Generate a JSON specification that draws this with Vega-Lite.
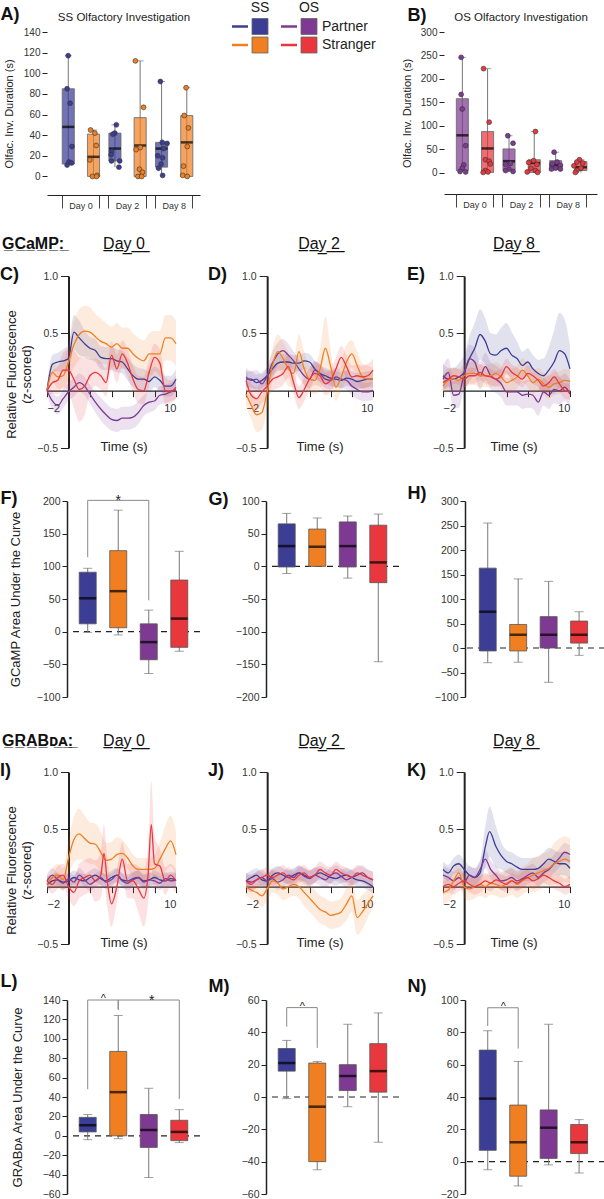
{
"$schema":"https://vega.github.io/schema/vega-lite/v6.json",
"padding":{"left":0,"top":1,"right":0,"bottom":0},
"background":"white",
"config":{"font":"Liberation Sans","view":{"stroke":null},"text":{"font":"Liberation Sans"},
"axis":{"grid":false,"labelFont":"Liberation Sans","titleFont":"Liberation Sans","labelColor":"#333","titleColor":"#222","titleFontWeight":"normal","domainColor":"#222","tickColor":"#222","labelFontSize":10.5}},
"datasets":{
"leg":[{"grp":"SS","row":"Partner","c":"SSP"},{"grp":"SS","row":"Stranger","c":"SSS"},{"grp":"OS","row":"Partner","c":"OSP"},{"grp":"OS","row":"Stranger","c":"OSS"}],
"legHdr":[{"grp":"SS","row":"hdr"},{"grp":"OS","row":"hdr"}],
"boxA":[{"day":"Day 0","type":"Partner","c":"SSP","lo":11,"q1":12,"med":48,"q3":85,"hi":117},{"day":"Day 0","type":"Stranger","c":"SSS","lo":0,"q1":0,"med":19,"q3":41,"hi":45},{"day":"Day 2","type":"Partner","c":"SSP","lo":9,"q1":15,"med":27,"q3":42,"hi":50},{"day":"Day 2","type":"Stranger","c":"SSS","lo":0,"q1":0,"med":30,"q3":57,"hi":112},{"day":"Day 8","type":"Partner","c":"SSP","lo":1,"q1":9,"med":27,"q3":33,"hi":92},{"day":"Day 8","type":"Stranger","c":"SSS","lo":0,"q1":0,"med":33,"q3":59,"hi":86}],
"ptsA":[{"day":"Day 0","c":"SSP","v":117,"jx":0.16},{"day":"Day 0","c":"SSP","v":85,"jx":0.13},{"day":"Day 0","c":"SSP","v":71,"jx":0.21},{"day":"Day 0","c":"SSP","v":29,"jx":0.26},{"day":"Day 0","c":"SSP","v":14,"jx":0.18},{"day":"Day 0","c":"SSP","v":13,"jx":0.25},{"day":"Day 0","c":"SSP","v":11,"jx":0.13},
{"day":"Day 0","c":"SSS","v":45,"jx":0.76},{"day":"Day 0","c":"SSS","v":42,"jx":0.875},{"day":"Day 0","c":"SSS","v":30,"jx":0.91},{"day":"Day 0","c":"SSS","v":16,"jx":0.74},{"day":"Day 0","c":"SSS","v":1,"jx":0.94},{"day":"Day 0","c":"SSS","v":0,"jx":0.81},{"day":"Day 0","c":"SSS","v":0,"jx":0.92},
{"day":"Day 2","c":"SSP","v":50,"jx":0.2},{"day":"Day 2","c":"SSP","v":42,"jx":0.16},{"day":"Day 2","c":"SSP","v":41,"jx":0.11},{"day":"Day 2","c":"SSP","v":24,"jx":0.07},{"day":"Day 2","c":"SSP","v":21,"jx":0.06},{"day":"Day 2","c":"SSP","v":15,"jx":0.07},{"day":"Day 2","c":"SSP","v":15,"jx":0.29},{"day":"Day 2","c":"SSP","v":9,"jx":0.27},
{"day":"Day 2","c":"SSS","v":112,"jx":0.71},{"day":"Day 2","c":"SSS","v":67,"jx":0.93},{"day":"Day 2","c":"SSS","v":28,"jx":0.84},{"day":"Day 2","c":"SSS","v":26,"jx":0.73},{"day":"Day 2","c":"SSS","v":7,"jx":0.82},{"day":"Day 2","c":"SSS","v":4,"jx":0.9},{"day":"Day 2","c":"SSS","v":0,"jx":0.78},{"day":"Day 2","c":"SSS","v":0,"jx":0.88},
{"day":"Day 8","c":"SSP","v":92,"jx":0.13},{"day":"Day 8","c":"SSP","v":33,"jx":0.18},{"day":"Day 8","c":"SSP","v":32,"jx":0.31},{"day":"Day 8","c":"SSP","v":27,"jx":0.22},{"day":"Day 8","c":"SSP","v":20,"jx":0.06},{"day":"Day 8","c":"SSP","v":18,"jx":0.19},{"day":"Day 8","c":"SSP","v":12,"jx":0.15},{"day":"Day 8","c":"SSP","v":8,"jx":0.08},{"day":"Day 8","c":"SSP","v":1,"jx":0.19},
{"day":"Day 8","c":"SSS","v":86,"jx":0.82},{"day":"Day 8","c":"SSS","v":59,"jx":0.77},{"day":"Day 8","c":"SSS","v":47,"jx":0.88},{"day":"Day 8","c":"SSS","v":29,"jx":0.85},{"day":"Day 8","c":"SSS","v":10,"jx":0.75},{"day":"Day 8","c":"SSS","v":1,"jx":0.73},{"day":"Day 8","c":"SSS","v":0,"jx":0.85}],
"boxB":[{"day":"Day 0","type":"Partner","c":"OSP","lo":2,"q1":5,"med":80,"q3":158,"hi":246},{"day":"Day 0","type":"Stranger","c":"OSS","lo":1,"q1":1,"med":52,"q3":88,"hi":222},{"day":"Day 2","type":"Partner","c":"OSP","lo":3,"q1":5,"med":25,"q3":51,"hi":79},{"day":"Day 2","type":"Stranger","c":"OSS","lo":1,"q1":1,"med":21,"q3":28,"hi":88},{"day":"Day 8","type":"Partner","c":"OSP","lo":7,"q1":7,"med":16,"q3":26,"hi":44},{"day":"Day 8","type":"Stranger","c":"OSS","lo":1,"q1":5,"med":12,"q3":24,"hi":28}],
"ptsB":[{"day":"Day 0","c":"OSP","v":246,"jx":0.13},{"day":"Day 0","c":"OSP","v":167,"jx":0.13},{"day":"Day 0","c":"OSP","v":136,"jx":0.16},{"day":"Day 0","c":"OSP","v":58,"jx":0.25},{"day":"Day 0","c":"OSP","v":17,"jx":0.2},{"day":"Day 0","c":"OSP","v":10,"jx":0.16},{"day":"Day 0","c":"OSP","v":3,"jx":0.1},{"day":"Day 0","c":"OSP","v":2,"jx":0.25},
{"day":"Day 0","c":"OSS","v":222,"jx":0.73},{"day":"Day 0","c":"OSS","v":108,"jx":0.88},{"day":"Day 0","c":"OSS","v":28,"jx":0.78},{"day":"Day 0","c":"OSS","v":25,"jx":0.88},{"day":"Day 0","c":"OSS","v":19,"jx":0.91},{"day":"Day 0","c":"OSS","v":5,"jx":0.78},{"day":"Day 0","c":"OSS","v":2,"jx":0.85},{"day":"Day 0","c":"OSS","v":1,"jx":0.72},
{"day":"Day 2","c":"OSP","v":79,"jx":0.13},{"day":"Day 2","c":"OSP","v":63,"jx":0.27},{"day":"Day 2","c":"OSP","v":20,"jx":0.2},{"day":"Day 2","c":"OSP","v":18,"jx":0.07},{"day":"Day 2","c":"OSP","v":8,"jx":0.16},{"day":"Day 2","c":"OSP","v":5,"jx":0.07},{"day":"Day 2","c":"OSP","v":3,"jx":0.27},
{"day":"Day 2","c":"OSS","v":88,"jx":0.87},{"day":"Day 2","c":"OSS","v":26,"jx":0.82},{"day":"Day 2","c":"OSS","v":22,"jx":0.69},{"day":"Day 2","c":"OSS","v":18,"jx":0.91},{"day":"Day 2","c":"OSS","v":10,"jx":0.75},{"day":"Day 2","c":"OSS","v":5,"jx":0.87},{"day":"Day 2","c":"OSS","v":2,"jx":0.65},{"day":"Day 2","c":"OSS","v":1,"jx":0.93},
{"day":"Day 8","c":"OSP","v":44,"jx":0.12},{"day":"Day 8","c":"OSP","v":23,"jx":0.2},{"day":"Day 8","c":"OSP","v":19,"jx":0.07},{"day":"Day 8","c":"OSP","v":16,"jx":0.29},{"day":"Day 8","c":"OSP","v":10,"jx":0.16},{"day":"Day 8","c":"OSP","v":8,"jx":0.05},{"day":"Day 8","c":"OSP","v":8,"jx":0.29},
{"day":"Day 8","c":"OSS","v":28,"jx":0.8},{"day":"Day 8","c":"OSS","v":23,"jx":0.73},{"day":"Day 8","c":"OSS","v":21,"jx":0.89},{"day":"Day 8","c":"OSS","v":15,"jx":0.65},{"day":"Day 8","c":"OSS","v":10,"jx":0.84},{"day":"Day 8","c":"OSS","v":5,"jx":0.73},{"day":"Day 8","c":"OSS","v":1,"jx":0.69}],
"trC":[
{"c":"SSP","t":-2,"m":0,"e":0.04},{"c":"SSP","t":-1.5,"m":0.23,"e":0.08},{"c":"SSP","t":-1,"m":0.25,"e":0.08},{"c":"SSP","t":-0.5,"m":0.26,"e":0.1},{"c":"SSP","t":0,"m":0.28,"e":0.12},{"c":"SSP","t":0.5,"m":0.51,"e":0.15},{"c":"SSP","t":1,"m":0.46,"e":0.15},{"c":"SSP","t":1.5,"m":0.41,"e":0.12},{"c":"SSP","t":2,"m":0.37,"e":0.1},{"c":"SSP","t":2.5,"m":0.35,"e":0.1},{"c":"SSP","t":3,"m":0.29,"e":0.1},{"c":"SSP","t":3.5,"m":0.28,"e":0.1},{"c":"SSP","t":4,"m":0.28,"e":0.1},{"c":"SSP","t":4.5,"m":0.26,"e":0.1},{"c":"SSP","t":5,"m":0.25,"e":0.1},{"c":"SSP","t":5.5,"m":0.19,"e":0.1},{"c":"SSP","t":6,"m":0.13,"e":0.1},{"c":"SSP","t":6.5,"m":0.1,"e":0.1},{"c":"SSP","t":7,"m":0.1,"e":0.09},{"c":"SSP","t":7.5,"m":0.08,"e":0.09},{"c":"SSP","t":8,"m":0.12,"e":0.09},{"c":"SSP","t":8.5,"m":0.09,"e":0.09},{"c":"SSP","t":9,"m":0.04,"e":0.09},{"c":"SSP","t":9.5,"m":0.04,"e":0.09},{"c":"SSP","t":10,"m":0.1,"e":0.09},
{"c":"SSS","t":-2,"m":0,"e":0.04},{"c":"SSS","t":-1.5,"m":0.16,"e":0.08},{"c":"SSS","t":-1,"m":0.12,"e":0.1},{"c":"SSS","t":-0.5,"m":0.13,"e":0.12},{"c":"SSS","t":0,"m":0.25,"e":0.15},{"c":"SSS","t":0.5,"m":0.4,"e":0.2},{"c":"SSS","t":1,"m":0.49,"e":0.22},{"c":"SSS","t":1.5,"m":0.52,"e":0.22},{"c":"SSS","t":2,"m":0.51,"e":0.22},{"c":"SSS","t":2.5,"m":0.47,"e":0.2},{"c":"SSS","t":3,"m":0.43,"e":0.2},{"c":"SSS","t":3.5,"m":0.41,"e":0.18},{"c":"SSS","t":4,"m":0.38,"e":0.18},{"c":"SSS","t":4.5,"m":0.41,"e":0.18},{"c":"SSS","t":5,"m":0.37,"e":0.18},{"c":"SSS","t":5.5,"m":0.37,"e":0.18},{"c":"SSS","t":6,"m":0.32,"e":0.18},{"c":"SSS","t":6.5,"m":0.28,"e":0.18},{"c":"SSS","t":7,"m":0.26,"e":0.18},{"c":"SSS","t":7.5,"m":0.32,"e":0.18},{"c":"SSS","t":8,"m":0.32,"e":0.2},{"c":"SSS","t":8.5,"m":0.32,"e":0.2},{"c":"SSS","t":9,"m":0.46,"e":0.2},{"c":"SSS","t":9.5,"m":0.46,"e":0.2},{"c":"SSS","t":10,"m":0.41,"e":0.2},
{"c":"OSP","t":-2,"m":0,"e":0.04},{"c":"OSP","t":-1.5,"m":-0.09,"e":0.07},{"c":"OSP","t":-1,"m":-0.13,"e":0.08},{"c":"OSP","t":-0.5,"m":-0.07,"e":0.08},{"c":"OSP","t":0,"m":-0.01,"e":0.08},{"c":"OSP","t":0.5,"m":0.03,"e":0.08},{"c":"OSP","t":1,"m":0.07,"e":0.08},{"c":"OSP","t":1.5,"m":0.04,"e":0.08},{"c":"OSP","t":2,"m":-0.03,"e":0.08},{"c":"OSP","t":2.5,"m":-0.1,"e":0.09},{"c":"OSP","t":3,"m":-0.16,"e":0.1},{"c":"OSP","t":3.5,"m":-0.21,"e":0.1},{"c":"OSP","t":4,"m":-0.25,"e":0.1},{"c":"OSP","t":4.5,"m":-0.26,"e":0.1},{"c":"OSP","t":5,"m":-0.24,"e":0.1},{"c":"OSP","t":5.5,"m":-0.24,"e":0.1},{"c":"OSP","t":6,"m":-0.23,"e":0.1},{"c":"OSP","t":6.5,"m":-0.19,"e":0.1},{"c":"OSP","t":7,"m":-0.13,"e":0.09},{"c":"OSP","t":7.5,"m":-0.1,"e":0.09},{"c":"OSP","t":8,"m":-0.09,"e":0.08},{"c":"OSP","t":8.5,"m":-0.04,"e":0.08},{"c":"OSP","t":9,"m":-0.03,"e":0.08},{"c":"OSP","t":9.5,"m":-0.01,"e":0.08},{"c":"OSP","t":10,"m":0.01,"e":0.08},
{"c":"OSS","t":-2,"m":0,"e":0.04},{"c":"OSS","t":-1.5,"m":0.07,"e":0.1},{"c":"OSS","t":-1,"m":0.09,"e":0.12},{"c":"OSS","t":-0.5,"m":0.18,"e":0.15},{"c":"OSS","t":0,"m":0.18,"e":0.18},{"c":"OSS","t":0.5,"m":0.1,"e":0.25},{"c":"OSS","t":1,"m":0.01,"e":0.28},{"c":"OSS","t":1.5,"m":0.04,"e":0.25},{"c":"OSS","t":2,"m":0.13,"e":0.15},{"c":"OSS","t":2.5,"m":0.16,"e":0.12},{"c":"OSS","t":3,"m":0.13,"e":0.12},{"c":"OSS","t":3.5,"m":0.07,"e":0.12},{"c":"OSS","t":4,"m":0.31,"e":0.12},{"c":"OSS","t":4.5,"m":0.19,"e":0.12},{"c":"OSS","t":5,"m":0.32,"e":0.12},{"c":"OSS","t":5.5,"m":0.24,"e":0.12},{"c":"OSS","t":6,"m":0.1,"e":0.12},{"c":"OSS","t":6.5,"m":0.01,"e":0.12},{"c":"OSS","t":7,"m":0,"e":0.12},{"c":"OSS","t":7.5,"m":0.16,"e":0.12},{"c":"OSS","t":8,"m":0.29,"e":0.12},{"c":"OSS","t":8.5,"m":0.24,"e":0.12},{"c":"OSS","t":9,"m":0,"e":0.12},{"c":"OSS","t":9.5,"m":-0.01,"e":0.1},{"c":"OSS","t":10,"m":0.03,"e":0.1}],
"trD":[
{"c":"SSP","t":-2,"m":0.1,"e":0.07},{"c":"SSP","t":-1.5,"m":0.1,"e":0.07},{"c":"SSP","t":-1,"m":0.07,"e":0.07},{"c":"SSP","t":-0.5,"m":0.09,"e":0.07},{"c":"SSP","t":0,"m":0.13,"e":0.07},{"c":"SSP","t":0.5,"m":0.19,"e":0.07},{"c":"SSP","t":1,"m":0.24,"e":0.07},{"c":"SSP","t":1.5,"m":0.25,"e":0.07},{"c":"SSP","t":2,"m":0.25,"e":0.07},{"c":"SSP","t":2.5,"m":0.24,"e":0.07},{"c":"SSP","t":3,"m":0.24,"e":0.07},{"c":"SSP","t":3.5,"m":0.26,"e":0.07},{"c":"SSP","t":4,"m":0.25,"e":0.07},{"c":"SSP","t":4.5,"m":0.19,"e":0.07},{"c":"SSP","t":5,"m":0.15,"e":0.07},{"c":"SSP","t":5.5,"m":0.13,"e":0.07},{"c":"SSP","t":6,"m":0.11,"e":0.07},{"c":"SSP","t":6.5,"m":0.1,"e":0.07},{"c":"SSP","t":7,"m":0.09,"e":0.07},{"c":"SSP","t":7.5,"m":0.11,"e":0.07},{"c":"SSP","t":8,"m":0.1,"e":0.07},{"c":"SSP","t":8.5,"m":0.08,"e":0.07},{"c":"SSP","t":9,"m":0.09,"e":0.07},{"c":"SSP","t":9.5,"m":0.1,"e":0.07},{"c":"SSP","t":10,"m":0.1,"e":0.07},
{"c":"OSP","t":-2,"m":0.12,"e":0.08},{"c":"OSP","t":-1.5,"m":0.09,"e":0.08},{"c":"OSP","t":-1,"m":0.1,"e":0.08},{"c":"OSP","t":-0.5,"m":0.06,"e":0.08},{"c":"OSP","t":0,"m":0.13,"e":0.08},{"c":"OSP","t":0.5,"m":0.24,"e":0.1},{"c":"OSP","t":1,"m":0.32,"e":0.1},{"c":"OSP","t":1.5,"m":0.35,"e":0.1},{"c":"OSP","t":2,"m":0.31,"e":0.1},{"c":"OSP","t":2.5,"m":0.26,"e":0.08},{"c":"OSP","t":3,"m":0.19,"e":0.08},{"c":"OSP","t":3.5,"m":0.13,"e":0.08},{"c":"OSP","t":4,"m":0.1,"e":0.08},{"c":"OSP","t":4.5,"m":0.18,"e":0.08},{"c":"OSP","t":5,"m":0.15,"e":0.08},{"c":"OSP","t":5.5,"m":0.1,"e":0.08},{"c":"OSP","t":6,"m":0.09,"e":0.08},{"c":"OSP","t":6.5,"m":0.12,"e":0.08},{"c":"OSP","t":7,"m":0.1,"e":0.08},{"c":"OSP","t":7.5,"m":0.09,"e":0.08},{"c":"OSP","t":8,"m":0.04,"e":0.08},{"c":"OSP","t":8.5,"m":0.01,"e":0.08},{"c":"OSP","t":9,"m":-0.01,"e":0.08},{"c":"OSP","t":9.5,"m":-0.01,"e":0.08},{"c":"OSP","t":10,"m":0,"e":0.08},
{"c":"SSS","t":-2,"m":-0.03,"e":0.1},{"c":"SSS","t":-1.5,"m":-0.13,"e":0.12},{"c":"SSS","t":-1,"m":-0.21,"e":0.15},{"c":"SSS","t":-0.5,"m":-0.19,"e":0.15},{"c":"SSS","t":0,"m":-0.01,"e":0.15},{"c":"SSS","t":0.5,"m":0.22,"e":0.15},{"c":"SSS","t":1,"m":0.34,"e":0.15},{"c":"SSS","t":1.5,"m":0.28,"e":0.15},{"c":"SSS","t":2,"m":0.19,"e":0.15},{"c":"SSS","t":2.5,"m":0.15,"e":0.12},{"c":"SSS","t":3,"m":0.34,"e":0.15},{"c":"SSS","t":3.5,"m":0.19,"e":0.15},{"c":"SSS","t":4,"m":0.1,"e":0.12},{"c":"SSS","t":4.5,"m":0.09,"e":0.12},{"c":"SSS","t":5,"m":0.19,"e":0.18},{"c":"SSS","t":5.5,"m":0.37,"e":0.28},{"c":"SSS","t":6,"m":0.21,"e":0.15},{"c":"SSS","t":6.5,"m":0.03,"e":0.12},{"c":"SSS","t":7,"m":0.12,"e":0.12},{"c":"SSS","t":7.5,"m":0.25,"e":0.15},{"c":"SSS","t":8,"m":0.32,"e":0.12},{"c":"SSS","t":8.5,"m":0.22,"e":0.12},{"c":"SSS","t":9,"m":0.12,"e":0.12},{"c":"SSS","t":9.5,"m":0.1,"e":0.12},{"c":"SSS","t":10,"m":0.1,"e":0.1},
{"c":"OSS","t":-2,"m":0.09,"e":0.1},{"c":"OSS","t":-1.5,"m":-0.04,"e":0.1},{"c":"OSS","t":-1,"m":-0.07,"e":0.1},{"c":"OSS","t":-0.5,"m":-0.01,"e":0.1},{"c":"OSS","t":0,"m":0.04,"e":0.1},{"c":"OSS","t":0.5,"m":0.1,"e":0.1},{"c":"OSS","t":1,"m":0.12,"e":0.1},{"c":"OSS","t":1.5,"m":0.15,"e":0.1},{"c":"OSS","t":2,"m":0.21,"e":0.1},{"c":"OSS","t":2.5,"m":0.07,"e":0.1},{"c":"OSS","t":3,"m":-0.06,"e":0.1},{"c":"OSS","t":3.5,"m":0.01,"e":0.1},{"c":"OSS","t":4,"m":0.1,"e":0.1},{"c":"OSS","t":4.5,"m":0.15,"e":0.1},{"c":"OSS","t":5,"m":0.13,"e":0.1},{"c":"OSS","t":5.5,"m":0.06,"e":0.1},{"c":"OSS","t":6,"m":0.09,"e":0.1},{"c":"OSS","t":6.5,"m":0.19,"e":0.1},{"c":"OSS","t":7,"m":0.29,"e":0.1},{"c":"OSS","t":7.5,"m":0.21,"e":0.1},{"c":"OSS","t":8,"m":0.12,"e":0.1},{"c":"OSS","t":8.5,"m":0.13,"e":0.1},{"c":"OSS","t":9,"m":0.12,"e":0.1},{"c":"OSS","t":9.5,"m":0.13,"e":0.1},{"c":"OSS","t":10,"m":0.18,"e":0.1}],
"trE":[
{"c":"SSP","t":-2,"m":0.13,"e":0.1},{"c":"SSP","t":-1.5,"m":0.1,"e":0.1},{"c":"SSP","t":-1,"m":0.1,"e":0.1},{"c":"SSP","t":-0.5,"m":0.12,"e":0.12},{"c":"SSP","t":0,"m":0.16,"e":0.15},{"c":"SSP","t":0.5,"m":0.28,"e":0.2},{"c":"SSP","t":1,"m":0.37,"e":0.22},{"c":"SSP","t":1.5,"m":0.49,"e":0.22},{"c":"SSP","t":2,"m":0.43,"e":0.2},{"c":"SSP","t":2.5,"m":0.32,"e":0.18},{"c":"SSP","t":3,"m":0.31,"e":0.18},{"c":"SSP","t":3.5,"m":0.35,"e":0.2},{"c":"SSP","t":4,"m":0.37,"e":0.22},{"c":"SSP","t":4.5,"m":0.31,"e":0.2},{"c":"SSP","t":5,"m":0.28,"e":0.15},{"c":"SSP","t":5.5,"m":0.22,"e":0.12},{"c":"SSP","t":6,"m":0.25,"e":0.12},{"c":"SSP","t":6.5,"m":0.19,"e":0.12},{"c":"SSP","t":7,"m":0.15,"e":0.12},{"c":"SSP","t":7.5,"m":0.13,"e":0.15},{"c":"SSP","t":8,"m":0.18,"e":0.2},{"c":"SSP","t":8.5,"m":0.25,"e":0.28},{"c":"SSP","t":9,"m":0.35,"e":0.33},{"c":"SSP","t":9.5,"m":0.32,"e":0.3},{"c":"SSP","t":10,"m":0.19,"e":0.2},
{"c":"OSP","t":-2,"m":0.1,"e":0.12},{"c":"OSP","t":-1.5,"m":0.16,"e":0.12},{"c":"OSP","t":-1,"m":-0.04,"e":0.12},{"c":"OSP","t":-0.5,"m":-0.03,"e":0.12},{"c":"OSP","t":0,"m":0.15,"e":0.12},{"c":"OSP","t":0.5,"m":0.28,"e":0.12},{"c":"OSP","t":1,"m":0.25,"e":0.12},{"c":"OSP","t":1.5,"m":0.13,"e":0.12},{"c":"OSP","t":2,"m":0.21,"e":0.12},{"c":"OSP","t":2.5,"m":0.13,"e":0.12},{"c":"OSP","t":3,"m":0.1,"e":0.12},{"c":"OSP","t":3.5,"m":0.06,"e":0.12},{"c":"OSP","t":4,"m":-0.01,"e":0.12},{"c":"OSP","t":4.5,"m":-0.01,"e":0.12},{"c":"OSP","t":5,"m":-0.01,"e":0.12},{"c":"OSP","t":5.5,"m":-0.04,"e":0.12},{"c":"OSP","t":6,"m":-0.03,"e":0.12},{"c":"OSP","t":6.5,"m":-0.04,"e":0.12},{"c":"OSP","t":7,"m":-0.1,"e":0.12},{"c":"OSP","t":7.5,"m":-0.01,"e":0.12},{"c":"OSP","t":8,"m":-0.04,"e":0.12},{"c":"OSP","t":8.5,"m":0.01,"e":0.12},{"c":"OSP","t":9,"m":0,"e":0.12},{"c":"OSP","t":9.5,"m":0.03,"e":0.12},{"c":"OSP","t":10,"m":-0.03,"e":0.12},
{"c":"SSS","t":-2,"m":0.04,"e":0.1},{"c":"SSS","t":-1.5,"m":0.09,"e":0.1},{"c":"SSS","t":-1,"m":0.1,"e":0.1},{"c":"SSS","t":-0.5,"m":0.09,"e":0.1},{"c":"SSS","t":0,"m":0.13,"e":0.1},{"c":"SSS","t":0.5,"m":0.15,"e":0.1},{"c":"SSS","t":1,"m":0.15,"e":0.1},{"c":"SSS","t":1.5,"m":0.13,"e":0.1},{"c":"SSS","t":2,"m":0.13,"e":0.1},{"c":"SSS","t":2.5,"m":0.13,"e":0.1},{"c":"SSS","t":3,"m":0.15,"e":0.1},{"c":"SSS","t":3.5,"m":0.12,"e":0.1},{"c":"SSS","t":4,"m":0.07,"e":0.1},{"c":"SSS","t":4.5,"m":0.09,"e":0.1},{"c":"SSS","t":5,"m":0.12,"e":0.1},{"c":"SSS","t":5.5,"m":0.18,"e":0.1},{"c":"SSS","t":6,"m":0.13,"e":0.1},{"c":"SSS","t":6.5,"m":0.07,"e":0.1},{"c":"SSS","t":7,"m":0.1,"e":0.1},{"c":"SSS","t":7.5,"m":0.06,"e":0.1},{"c":"SSS","t":8,"m":0.03,"e":0.1},{"c":"SSS","t":8.5,"m":0.06,"e":0.1},{"c":"SSS","t":9,"m":0.07,"e":0.1},{"c":"SSS","t":9.5,"m":0.09,"e":0.1},{"c":"SSS","t":10,"m":0.08,"e":0.1},
{"c":"OSS","t":-2,"m":0.07,"e":0.07},{"c":"OSS","t":-1.5,"m":0.1,"e":0.07},{"c":"OSS","t":-1,"m":0.13,"e":0.07},{"c":"OSS","t":-0.5,"m":0.12,"e":0.07},{"c":"OSS","t":0,"m":0.1,"e":0.07},{"c":"OSS","t":0.5,"m":0.13,"e":0.07},{"c":"OSS","t":1,"m":0.13,"e":0.07},{"c":"OSS","t":1.5,"m":0.16,"e":0.07},{"c":"OSS","t":2,"m":0.13,"e":0.07},{"c":"OSS","t":2.5,"m":0.12,"e":0.07},{"c":"OSS","t":3,"m":0.1,"e":0.07},{"c":"OSS","t":3.5,"m":0.13,"e":0.07},{"c":"OSS","t":4,"m":0.21,"e":0.07},{"c":"OSS","t":4.5,"m":0.16,"e":0.07},{"c":"OSS","t":5,"m":0.13,"e":0.07},{"c":"OSS","t":5.5,"m":0.1,"e":0.07},{"c":"OSS","t":6,"m":0.15,"e":0.07},{"c":"OSS","t":6.5,"m":0.13,"e":0.07},{"c":"OSS","t":7,"m":0.09,"e":0.07},{"c":"OSS","t":7.5,"m":0.04,"e":0.07},{"c":"OSS","t":8,"m":0.07,"e":0.07},{"c":"OSS","t":8.5,"m":0.12,"e":0.07},{"c":"OSS","t":9,"m":0.06,"e":0.07},{"c":"OSS","t":9.5,"m":0,"e":0.07},{"c":"OSS","t":10,"m":-0.01,"e":0.07}],
"trI":[
{"c":"SSP","t":-2,"m":0.02,"e":0.06},{"c":"SSP","t":-1.5,"m":0.05,"e":0.06},{"c":"SSP","t":-1,"m":0.06,"e":0.06},{"c":"SSP","t":-0.5,"m":0.04,"e":0.06},{"c":"SSP","t":0,"m":0.05,"e":0.06},{"c":"SSP","t":0.5,"m":0.08,"e":0.06},{"c":"SSP","t":1,"m":0.06,"e":0.06},{"c":"SSP","t":1.5,"m":0.05,"e":0.06},{"c":"SSP","t":2,"m":0.08,"e":0.06},{"c":"SSP","t":2.5,"m":0.1,"e":0.06},{"c":"SSP","t":3,"m":0.07,"e":0.06},{"c":"SSP","t":3.5,"m":0.05,"e":0.06},{"c":"SSP","t":4,"m":0.08,"e":0.06},{"c":"SSP","t":4.5,"m":0.1,"e":0.06},{"c":"SSP","t":5,"m":0.06,"e":0.06},{"c":"SSP","t":5.5,"m":0.05,"e":0.06},{"c":"SSP","t":6,"m":0.07,"e":0.06},{"c":"SSP","t":6.5,"m":0.08,"e":0.06},{"c":"SSP","t":7,"m":0.05,"e":0.06},{"c":"SSP","t":7.5,"m":0.06,"e":0.06},{"c":"SSP","t":8,"m":0.08,"e":0.06},{"c":"SSP","t":8.5,"m":0.06,"e":0.06},{"c":"SSP","t":9,"m":0.05,"e":0.06},{"c":"SSP","t":9.5,"m":0.07,"e":0.06},{"c":"SSP","t":10,"m":0.06,"e":0.06},
{"c":"OSP","t":-2,"m":0.05,"e":0.06},{"c":"OSP","t":-1.5,"m":0.1,"e":0.06},{"c":"OSP","t":-1,"m":0.06,"e":0.06},{"c":"OSP","t":-0.5,"m":0.03,"e":0.06},{"c":"OSP","t":0,"m":0.07,"e":0.06},{"c":"OSP","t":0.5,"m":0.04,"e":0.06},{"c":"OSP","t":1,"m":0.1,"e":0.06},{"c":"OSP","t":1.5,"m":0.06,"e":0.06},{"c":"OSP","t":2,"m":0.02,"e":0.06},{"c":"OSP","t":2.5,"m":0.05,"e":0.06},{"c":"OSP","t":3,"m":0.08,"e":0.06},{"c":"OSP","t":3.5,"m":0.04,"e":0.06},{"c":"OSP","t":4,"m":0.06,"e":0.06},{"c":"OSP","t":4.5,"m":0.1,"e":0.06},{"c":"OSP","t":5,"m":0.05,"e":0.06},{"c":"OSP","t":5.5,"m":0.03,"e":0.06},{"c":"OSP","t":6,"m":0.06,"e":0.06},{"c":"OSP","t":6.5,"m":0.08,"e":0.06},{"c":"OSP","t":7,"m":0.04,"e":0.06},{"c":"OSP","t":7.5,"m":0.06,"e":0.06},{"c":"OSP","t":8,"m":0.05,"e":0.06},{"c":"OSP","t":8.5,"m":0.03,"e":0.06},{"c":"OSP","t":9,"m":0.07,"e":0.06},{"c":"OSP","t":9.5,"m":0.05,"e":0.06},{"c":"OSP","t":10,"m":0.06,"e":0.06},
{"c":"SSS","t":-2,"m":0.02,"e":0.05},{"c":"SSS","t":-1.5,"m":0.08,"e":0.08},{"c":"SSS","t":-1,"m":0.1,"e":0.1},{"c":"SSS","t":-0.5,"m":0.06,"e":0.1},{"c":"SSS","t":0,"m":0.25,"e":0.15},{"c":"SSS","t":0.5,"m":0.41,"e":0.2},{"c":"SSS","t":1,"m":0.46,"e":0.22},{"c":"SSS","t":1.5,"m":0.42,"e":0.2},{"c":"SSS","t":2,"m":0.38,"e":0.18},{"c":"SSS","t":2.5,"m":0.37,"e":0.18},{"c":"SSS","t":3,"m":0.3,"e":0.18},{"c":"SSS","t":3.5,"m":0.23,"e":0.15},{"c":"SSS","t":4,"m":0.24,"e":0.15},{"c":"SSS","t":4.5,"m":0.28,"e":0.15},{"c":"SSS","t":5,"m":0.29,"e":0.12},{"c":"SSS","t":5.5,"m":0.25,"e":0.1},{"c":"SSS","t":6,"m":0.18,"e":0.1},{"c":"SSS","t":6.5,"m":0.15,"e":0.1},{"c":"SSS","t":7,"m":0.15,"e":0.1},{"c":"SSS","t":7.5,"m":0.15,"e":0.1},{"c":"SSS","t":8,"m":0.16,"e":0.12},{"c":"SSS","t":8.5,"m":0.24,"e":0.15},{"c":"SSS","t":9,"m":0.33,"e":0.2},{"c":"SSS","t":9.5,"m":0.4,"e":0.22},{"c":"SSS","t":10,"m":0.28,"e":0.2},
{"c":"OSS","t":-2,"m":0.05,"e":0.05},{"c":"OSS","t":-1.5,"m":0.02,"e":0.08},{"c":"OSS","t":-1,"m":0.08,"e":0.1},{"c":"OSS","t":-0.5,"m":0.1,"e":0.1},{"c":"OSS","t":0,"m":0,"e":0.1},{"c":"OSS","t":0.5,"m":-0.05,"e":0.12},{"c":"OSS","t":1,"m":0.05,"e":0.15},{"c":"OSS","t":1.5,"m":0.08,"e":0.15},{"c":"OSS","t":2,"m":0.1,"e":0.15},{"c":"OSS","t":2.5,"m":0.05,"e":0.18},{"c":"OSS","t":3,"m":0.1,"e":0.2},{"c":"OSS","t":3.3,"m":0.29,"e":0.25},{"c":"OSS","t":3.6,"m":0.05,"e":0.22},{"c":"OSS","t":4,"m":-0.15,"e":0.2},{"c":"OSS","t":4.5,"m":0,"e":0.15},{"c":"OSS","t":5,"m":0.24,"e":0.15},{"c":"OSS","t":5.5,"m":0.05,"e":0.15},{"c":"OSS","t":6,"m":0.05,"e":0.15},{"c":"OSS","t":6.5,"m":-0.02,"e":0.2},{"c":"OSS","t":7,"m":-0.1,"e":0.25},{"c":"OSS","t":7.4,"m":0.1,"e":0.25},{"c":"OSS","t":7.7,"m":0.54,"e":0.38},{"c":"OSS","t":8,"m":0.2,"e":0.25},{"c":"OSS","t":8.5,"m":0.18,"e":0.15},{"c":"OSS","t":9,"m":0.05,"e":0.12},{"c":"OSS","t":9.5,"m":0.1,"e":0.1},{"c":"OSS","t":10,"m":0.05,"e":0.1}],
"trJ":[
{"c":"SSP","t":-2,"m":0.05,"e":0.06},{"c":"SSP","t":-1.5,"m":0.08,"e":0.06},{"c":"SSP","t":-1,"m":0.1,"e":0.06},{"c":"SSP","t":-0.5,"m":0.06,"e":0.06},{"c":"SSP","t":0,"m":0.05,"e":0.06},{"c":"SSP","t":0.5,"m":0.1,"e":0.06},{"c":"SSP","t":1,"m":0.12,"e":0.06},{"c":"SSP","t":1.5,"m":0.1,"e":0.06},{"c":"SSP","t":2,"m":0.08,"e":0.06},{"c":"SSP","t":2.5,"m":0.1,"e":0.06},{"c":"SSP","t":3,"m":0.12,"e":0.06},{"c":"SSP","t":3.5,"m":0.1,"e":0.06},{"c":"SSP","t":4,"m":0.08,"e":0.06},{"c":"SSP","t":4.5,"m":0.1,"e":0.06},{"c":"SSP","t":5,"m":0.12,"e":0.06},{"c":"SSP","t":5.5,"m":0.1,"e":0.06},{"c":"SSP","t":6,"m":0.08,"e":0.06},{"c":"SSP","t":6.5,"m":0.07,"e":0.06},{"c":"SSP","t":7,"m":0.09,"e":0.06},{"c":"SSP","t":7.5,"m":0.1,"e":0.06},{"c":"SSP","t":8,"m":0.08,"e":0.06},{"c":"SSP","t":8.5,"m":0.06,"e":0.06},{"c":"SSP","t":9,"m":0.05,"e":0.06},{"c":"SSP","t":9.5,"m":0.03,"e":0.06},{"c":"SSP","t":10,"m":0,"e":0.06},
{"c":"OSP","t":-2,"m":0.05,"e":0.07},{"c":"OSP","t":-1.5,"m":0.04,"e":0.07},{"c":"OSP","t":-1,"m":0.06,"e":0.07},{"c":"OSP","t":-0.5,"m":0.08,"e":0.07},{"c":"OSP","t":0,"m":0.05,"e":0.07},{"c":"OSP","t":0.5,"m":0.07,"e":0.07},{"c":"OSP","t":1,"m":0.04,"e":0.07},{"c":"OSP","t":1.5,"m":0.06,"e":0.07},{"c":"OSP","t":2,"m":0.1,"e":0.07},{"c":"OSP","t":2.5,"m":0.08,"e":0.07},{"c":"OSP","t":3,"m":0.12,"e":0.07},{"c":"OSP","t":3.5,"m":0.09,"e":0.07},{"c":"OSP","t":4,"m":0.07,"e":0.07},{"c":"OSP","t":4.5,"m":0.1,"e":0.07},{"c":"OSP","t":5,"m":0.08,"e":0.07},{"c":"OSP","t":5.5,"m":0.06,"e":0.07},{"c":"OSP","t":6,"m":0.1,"e":0.07},{"c":"OSP","t":6.5,"m":0.12,"e":0.07},{"c":"OSP","t":7,"m":0.09,"e":0.07},{"c":"OSP","t":7.5,"m":0.06,"e":0.07},{"c":"OSP","t":8,"m":0.08,"e":0.07},{"c":"OSP","t":8.5,"m":0.1,"e":0.07},{"c":"OSP","t":9,"m":0.12,"e":0.07},{"c":"OSP","t":9.5,"m":0.08,"e":0.07},{"c":"OSP","t":10,"m":0.06,"e":0.07},
{"c":"SSS","t":-2,"m":0,"e":0.08},{"c":"SSS","t":-1.5,"m":-0.03,"e":0.08},{"c":"SSS","t":-1,"m":-0.05,"e":0.08},{"c":"SSS","t":-0.5,"m":-0.08,"e":0.1},{"c":"SSS","t":0,"m":-0.02,"e":0.1},{"c":"SSS","t":0.5,"m":0.05,"e":0.1},{"c":"SSS","t":1,"m":0.03,"e":0.1},{"c":"SSS","t":1.5,"m":-0.02,"e":0.1},{"c":"SSS","t":2,"m":0,"e":0.1},{"c":"SSS","t":2.5,"m":0.02,"e":0.1},{"c":"SSS","t":3,"m":0,"e":0.1},{"c":"SSS","t":3.5,"m":-0.05,"e":0.12},{"c":"SSS","t":4,"m":-0.1,"e":0.12},{"c":"SSS","t":4.5,"m":-0.15,"e":0.12},{"c":"SSS","t":5,"m":-0.2,"e":0.12},{"c":"SSS","t":5.5,"m":-0.22,"e":0.12},{"c":"SSS","t":6,"m":-0.25,"e":0.12},{"c":"SSS","t":6.5,"m":-0.24,"e":0.12},{"c":"SSS","t":7,"m":-0.22,"e":0.12},{"c":"SSS","t":7.5,"m":-0.15,"e":0.14},{"c":"SSS","t":8,"m":-0.08,"e":0.14},{"c":"SSS","t":8.5,"m":-0.27,"e":0.15},{"c":"SSS","t":9,"m":-0.22,"e":0.15},{"c":"SSS","t":9.5,"m":-0.15,"e":0.12},{"c":"SSS","t":10,"m":-0.08,"e":0.1},
{"c":"OSS","t":-2,"m":0.05,"e":0.07},{"c":"OSS","t":-1.5,"m":0.02,"e":0.07},{"c":"OSS","t":-1,"m":0.06,"e":0.07},{"c":"OSS","t":-0.5,"m":0.08,"e":0.07},{"c":"OSS","t":0,"m":0.1,"e":0.07},{"c":"OSS","t":0.5,"m":0.08,"e":0.07},{"c":"OSS","t":1,"m":0.1,"e":0.07},{"c":"OSS","t":1.5,"m":0.12,"e":0.07},{"c":"OSS","t":2,"m":0.08,"e":0.07},{"c":"OSS","t":2.5,"m":0.06,"e":0.07},{"c":"OSS","t":3,"m":0.1,"e":0.07},{"c":"OSS","t":3.5,"m":0.12,"e":0.07},{"c":"OSS","t":4,"m":0.08,"e":0.07},{"c":"OSS","t":4.5,"m":0.1,"e":0.07},{"c":"OSS","t":5,"m":0.15,"e":0.07},{"c":"OSS","t":5.5,"m":0.12,"e":0.07},{"c":"OSS","t":6,"m":0.1,"e":0.07},{"c":"OSS","t":6.5,"m":0.15,"e":0.07},{"c":"OSS","t":7,"m":0.12,"e":0.07},{"c":"OSS","t":7.5,"m":0.1,"e":0.07},{"c":"OSS","t":8,"m":0.08,"e":0.07},{"c":"OSS","t":8.5,"m":0.12,"e":0.07},{"c":"OSS","t":9,"m":0.1,"e":0.07},{"c":"OSS","t":9.5,"m":0.08,"e":0.07},{"c":"OSS","t":10,"m":0.06,"e":0.07}],
"trK":[
{"c":"SSP","t":-2,"m":0.15,"e":0.07},{"c":"SSP","t":-1.5,"m":0.12,"e":0.07},{"c":"SSP","t":-1,"m":0.18,"e":0.07},{"c":"SSP","t":-0.5,"m":0.2,"e":0.08},{"c":"SSP","t":0,"m":0.15,"e":0.08},{"c":"SSP","t":0.5,"m":0.1,"e":0.08},{"c":"SSP","t":1,"m":0.08,"e":0.08},{"c":"SSP","t":1.5,"m":0.12,"e":0.1},{"c":"SSP","t":2,"m":0.35,"e":0.18},{"c":"SSP","t":2.4,"m":0.48,"e":0.22},{"c":"SSP","t":3,"m":0.35,"e":0.18},{"c":"SSP","t":3.5,"m":0.27,"e":0.12},{"c":"SSP","t":4,"m":0.22,"e":0.1},{"c":"SSP","t":4.5,"m":0.2,"e":0.1},{"c":"SSP","t":5,"m":0.17,"e":0.1},{"c":"SSP","t":5.5,"m":0.15,"e":0.1},{"c":"SSP","t":6,"m":0.15,"e":0.1},{"c":"SSP","t":6.5,"m":0.15,"e":0.1},{"c":"SSP","t":7,"m":0.16,"e":0.1},{"c":"SSP","t":7.5,"m":0.2,"e":0.1},{"c":"SSP","t":8,"m":0.24,"e":0.1},{"c":"SSP","t":8.5,"m":0.22,"e":0.1},{"c":"SSP","t":9,"m":0.2,"e":0.1},{"c":"SSP","t":9.5,"m":0.2,"e":0.1},{"c":"SSP","t":10,"m":0.16,"e":0.1},
{"c":"OSP","t":-2,"m":0.1,"e":0.08},{"c":"OSP","t":-1.5,"m":0.08,"e":0.08},{"c":"OSP","t":-1,"m":0.05,"e":0.08},{"c":"OSP","t":-0.5,"m":0.08,"e":0.08},{"c":"OSP","t":0,"m":0.04,"e":0.08},{"c":"OSP","t":0.5,"m":0.1,"e":0.08},{"c":"OSP","t":1,"m":0.08,"e":0.08},{"c":"OSP","t":1.5,"m":0.15,"e":0.08},{"c":"OSP","t":2,"m":0.24,"e":0.08},{"c":"OSP","t":2.5,"m":0.15,"e":0.08},{"c":"OSP","t":3,"m":0.1,"e":0.08},{"c":"OSP","t":3.5,"m":0.05,"e":0.08},{"c":"OSP","t":4,"m":0.06,"e":0.08},{"c":"OSP","t":4.5,"m":0.08,"e":0.08},{"c":"OSP","t":5,"m":0.05,"e":0.08},{"c":"OSP","t":5.5,"m":0.07,"e":0.08},{"c":"OSP","t":6,"m":0.1,"e":0.08},{"c":"OSP","t":6.5,"m":0.12,"e":0.08},{"c":"OSP","t":7,"m":0.08,"e":0.08},{"c":"OSP","t":7.5,"m":0.12,"e":0.08},{"c":"OSP","t":8,"m":0.15,"e":0.08},{"c":"OSP","t":8.5,"m":0.2,"e":0.08},{"c":"OSP","t":9,"m":0.25,"e":0.08},{"c":"OSP","t":9.5,"m":0.3,"e":0.08},{"c":"OSP","t":10,"m":0.28,"e":0.08},
{"c":"SSS","t":-2,"m":-0.05,"e":0.1},{"c":"SSS","t":-1.5,"m":-0.03,"e":0.1},{"c":"SSS","t":-1,"m":0.05,"e":0.1},{"c":"SSS","t":-0.5,"m":0.12,"e":0.1},{"c":"SSS","t":0,"m":0,"e":0.1},{"c":"SSS","t":0.5,"m":-0.02,"e":0.1},{"c":"SSS","t":1,"m":0,"e":0.1},{"c":"SSS","t":1.5,"m":0.02,"e":0.1},{"c":"SSS","t":2,"m":0,"e":0.1},{"c":"SSS","t":2.5,"m":0.03,"e":0.1},{"c":"SSS","t":3,"m":0.02,"e":0.1},{"c":"SSS","t":3.5,"m":0,"e":0.1},{"c":"SSS","t":4,"m":0.03,"e":0.12},{"c":"SSS","t":4.5,"m":0.05,"e":0.12},{"c":"SSS","t":5,"m":0.02,"e":0.12},{"c":"SSS","t":5.5,"m":0.05,"e":0.12},{"c":"SSS","t":6,"m":0.08,"e":0.12},{"c":"SSS","t":6.5,"m":0.1,"e":0.15},{"c":"SSS","t":7,"m":0.12,"e":0.15},{"c":"SSS","t":7.5,"m":0.14,"e":0.15},{"c":"SSS","t":8,"m":0.16,"e":0.15},{"c":"SSS","t":8.5,"m":0.2,"e":0.18},{"c":"SSS","t":9,"m":0.22,"e":0.2},{"c":"SSS","t":9.5,"m":0.24,"e":0.2},{"c":"SSS","t":10,"m":0.22,"e":0.2},
{"c":"OSS","t":-2,"m":0,"e":0.07},{"c":"OSS","t":-1.5,"m":0.02,"e":0.07},{"c":"OSS","t":-1,"m":0,"e":0.07},{"c":"OSS","t":-0.5,"m":0.03,"e":0.07},{"c":"OSS","t":0,"m":0.05,"e":0.07},{"c":"OSS","t":0.5,"m":0.02,"e":0.07},{"c":"OSS","t":1,"m":0,"e":0.07},{"c":"OSS","t":1.5,"m":0.02,"e":0.07},{"c":"OSS","t":2,"m":0.05,"e":0.07},{"c":"OSS","t":2.5,"m":0.03,"e":0.07},{"c":"OSS","t":3,"m":0.06,"e":0.07},{"c":"OSS","t":3.5,"m":0.04,"e":0.07},{"c":"OSS","t":4,"m":0.02,"e":0.07},{"c":"OSS","t":4.5,"m":0.05,"e":0.07},{"c":"OSS","t":5,"m":0.03,"e":0.07},{"c":"OSS","t":5.5,"m":0.06,"e":0.07},{"c":"OSS","t":6,"m":0.08,"e":0.07},{"c":"OSS","t":6.5,"m":0.05,"e":0.07},{"c":"OSS","t":7,"m":0.07,"e":0.07},{"c":"OSS","t":7.5,"m":0.1,"e":0.07},{"c":"OSS","t":8,"m":0.08,"e":0.07},{"c":"OSS","t":8.5,"m":0.05,"e":0.07},{"c":"OSS","t":9,"m":0.03,"e":0.07},{"c":"OSS","t":9.5,"m":0,"e":0.07},{"c":"OSS","t":10,"m":0.02,"e":0.07}],
"aucF":[{"c":"SSP","lo":-1,"q1":12,"med":51,"q3":91,"hi":97},{"c":"SSS","lo":-5,"q1":6,"med":62,"q3":124,"hi":186},{"c":"OSP","lo":-64,"q1":-43,"med":-16,"q3":12,"hi":33},{"c":"OSS","lo":-30,"q1":-24,"med":20,"q3":79,"hi":123}],
"aucG":[{"c":"SSP","lo":-11,"q1":-1,"med":31,"q3":65,"hi":81},{"c":"SSS","lo":0,"q1":0,"med":30,"q3":57,"hi":74},{"c":"OSP","lo":-18,"q1":-1,"med":31,"q3":68,"hi":77},{"c":"OSS","lo":-146,"q1":-25,"med":6,"q3":63,"hi":80}],
"aucH":[{"c":"SSP","lo":-30,"q1":-6,"med":74,"q3":163,"hi":255},{"c":"SSS","lo":-29,"q1":-6,"med":27,"q3":48,"hi":141},{"c":"OSP","lo":-70,"q1":0,"med":27,"q3":64,"hi":136},{"c":"OSS","lo":-15,"q1":10,"med":27,"q3":55,"hi":74}],
"aucL":[{"c":"SSP","lo":-4,"q1":4,"med":11,"q3":19,"hi":22},{"c":"SSS","lo":-3,"q1":0,"med":45,"q3":87,"hi":124},{"c":"OSP","lo":-43,"q1":-12,"med":6,"q3":22,"hi":49},{"c":"OSS","lo":-7,"q1":-5,"med":4,"q3":16,"hi":27}],
"aucM":[{"c":"SSP","lo":-1,"q1":16,"med":21,"q3":30,"hi":35},{"c":"SSS","lo":-45,"q1":-40,"med":-6,"q3":21,"hi":22},{"c":"OSP","lo":-6,"q1":4,"med":13,"q3":20,"hi":45},{"c":"OSS","lo":-28,"q1":3,"med":16,"q3":33,"hi":52}],
"aucN":[{"c":"SSP","lo":-5,"q1":7,"med":39,"q3":69,"hi":81},{"c":"SSS","lo":-15,"q1":-9,"med":12,"q3":35,"hi":62},{"c":"OSP","lo":-2,"q1":2,"med":21,"q3":32,"hi":85},{"c":"OSS","lo":-7,"q1":5,"med":12,"q3":23,"hi":26}],
"brF":[{"g":1,"o":1,"c":"SSP","v":114},{"g":1,"o":2,"c":"SSP","v":201},{"g":1,"o":3,"c":"OSP","v":201},{"g":1,"o":4,"c":"OSP","v":48}],
"brL":[{"g":1,"o":1,"c":"SSP","v":48},{"g":1,"o":2,"c":"SSP","v":140},{"g":1,"o":3,"c":"SSS","v":140},{"g":1,"o":4,"c":"SSS","v":130},{"g":2,"o":1,"c":"SSS","v":130},{"g":2,"o":2,"c":"SSS","v":140},{"g":2,"o":3,"c":"OSS","v":140},{"g":2,"o":4,"c":"OSS","v":38}],
"brM":[{"g":1,"o":1,"c":"SSP","v":43.5},{"g":1,"o":2,"c":"SSP","v":55.3},{"g":1,"o":3,"c":"SSS","v":55.3},{"g":1,"o":4,"c":"SSS","v":30.4}],
"brN":[{"g":1,"o":1,"c":"SSP","v":83.9},{"g":1,"o":2,"c":"SSP","v":95.2},{"g":1,"o":3,"c":"SSS","v":95.2},{"g":1,"o":4,"c":"SSS","v":70}]
},
"spacing":25,
"vconcat":[
{"bounds":"flush","spacing":10,"hconcat":[
{"width":153,"height":163,
"layer":[
{"data":{"name":"boxA"},"mark":{"type":"rule","color":"#777","strokeWidth":1},
"encoding":{"x":{"field":"day","type":"nominal","scale":{"type":"band","paddingInner":0.2,"paddingOuter":0.24,"align":0.68},"axis":{"orient":"bottom","bandPosition":1,"title":null,"labels":false,"domain":false,"tickSize":13,"tickWidth":1,"tickColor":"#444"}},
"xOffset":{"field":"type","type":"nominal","scale":{"paddingInner":0.52,"paddingOuter":0}},
"y":{"field":"lo","type":"quantitative","scale":{"domain":[-18,140],"nice":false},"axis":{"orient":"left","title":"A)","titleAngle":0,"titleX":-47,"titleY":-13,"titleAlign":"left","titleBaseline":"alphabetic","titleFontSize":18,"titleFontWeight":"bold","titleColor":"#111","labels":false,"ticks":false,"domain":false}},
"y2":{"field":"hi"}}},
{"data":{"name":"boxA"},"mark":{"type":"tick","color":"#777","size":7,"thickness":1},
"encoding":{"x":{"field":"day","type":"nominal","axis":{"orient":"top","title":"SS Olfactory Investigation","labels":false,"ticks":false,"domain":false,"titleFontSize":11.5,"titlePadding":10,"titleColor":"#222"}},
"xOffset":{"field":"type","type":"nominal","scale":{"paddingInner":0.52,"paddingOuter":0}},
"y":{"field":"hi","type":"quantitative","axis":null}}},
{"data":{"name":"boxA"},"mark":{"type":"bar","stroke":"#666","strokeWidth":0.8,"fillOpacity":0.72},
"encoding":{"x":{"field":"day","type":"nominal","axis":{"orient":"bottom","bandPosition":0,"title":null,"labelAngle":0,"tickSize":13,"tickWidth":1,"tickColor":"#444","labelPadding":-7,"labelFontSize":9,"domainWidth":1.2}},
"xOffset":{"field":"type","type":"nominal","scale":{"paddingInner":0.52,"paddingOuter":0}},
"y":{"field":"q1","type":"quantitative","axis":{"orient":"left","values":[0,20,40,60,80,100,120,140],"domain":false,"title":"Olfac. Inv. Duration (s)","titleFontSize":11,"titlePadding":9,"tickSize":5,"labelFontSize":10}},
"y2":{"field":"q3"},
"fill":{"field":"c","type":"nominal","scale":{"domain":["SSP","SSS","OSP","OSS"],"range":["#3C3D94","#F07F22","#7E3A92","#E8383D"]},"legend":null}}},
{"data":{"name":"boxA"},"mark":{"type":"tick","color":"#000","size":12,"thickness":2.5},
"encoding":{"x":{"field":"day","type":"nominal","axis":null},
"xOffset":{"field":"type","type":"nominal","scale":{"paddingInner":0.52,"paddingOuter":0}},
"y":{"field":"med","type":"quantitative","axis":null}}},
{"data":{"name":"ptsA"},"mark":{"type":"point","filled":true,"size":24,"stroke":"#333","strokeWidth":0.6,"opacity":1},
"encoding":{"x":{"field":"day","type":"nominal","axis":null},
"xOffset":{"field":"jx","type":"quantitative","scale":{"domain":[0,1]}},
"y":{"field":"v","type":"quantitative","axis":null},
"fill":{"field":"c","type":"nominal","scale":{"domain":["SSP","SSS","OSP","OSS"],"range":["#3C3D94","#F07F22","#7E3A92","#E8383D"]},"legend":null}}}
],
"resolve":{"scale":{"xOffset":"independent"},"axis":{"x":"independent","y":"independent"}}},
{"width":224,"height":10,
"layer":[
{"data":{"name":"leg"},"mark":{"type":"point","shape":"M-1,0L1,0","filled":false,"strokeWidth":2.5,"size":256,"xOffset":-20,"opacity":1},
"encoding":{"x":{"field":"grp","type":"nominal","scale":{"type":"point","domain":["SS","OS"],"range":[50,99],"padding":0},"axis":null},
"y":{"field":"row","type":"nominal","scale":{"type":"point","domain":["hdr","Partner","Stranger"],"range":[-24,13],"padding":0},"axis":null},
"color":{"field":"c","type":"nominal","scale":{"domain":["SSP","SSS","OSP","OSS"],"range":["#3C3D94","#F07F22","#7E3A92","#E8383D"]},"legend":null}}},
{"data":{"name":"leg"},"mark":{"type":"square","size":256,"stroke":"#666","strokeWidth":0.8,"opacity":1},
"encoding":{"x":{"field":"grp","type":"nominal","axis":null},"y":{"field":"row","type":"nominal","axis":null},
"fill":{"field":"c","type":"nominal","scale":{"domain":["SSP","SSS","OSP","OSS"],"range":["#3C3D94","#F07F22","#7E3A92","#E8383D"]},"legend":null}}},
{"data":{"name":"legHdr"},"mark":{"type":"text","fontSize":14,"baseline":"middle","color":"#222"},
"encoding":{"x":{"field":"grp","type":"nominal","axis":null},"y":{"field":"row","type":"nominal","axis":null},"text":{"field":"grp","type":"nominal"}}},
{"data":{"name":"leg"},"transform":[{"filter":"datum.grp=='OS'"}],"mark":{"type":"text","fontSize":14,"align":"left","baseline":"middle","xOffset":13,"color":"#222"},
"encoding":{"x":{"field":"grp","type":"nominal","axis":null},"y":{"field":"row","type":"nominal","axis":null},"text":{"field":"row","type":"nominal"}}}
]},
{"width":153,"height":162,
"layer":[
{"data":{"name":"boxB"},"mark":{"type":"rule","color":"#777","strokeWidth":1},
"encoding":{"x":{"field":"day","type":"nominal","scale":{"type":"band","paddingInner":0.2,"paddingOuter":0.24,"align":0.55},"axis":{"orient":"bottom","bandPosition":1,"title":null,"labels":false,"domain":false,"tickSize":13,"tickWidth":1,"tickColor":"#444"}},
"xOffset":{"field":"type","type":"nominal","scale":{"paddingInner":0.52,"paddingOuter":0}},
"y":{"field":"lo","type":"quantitative","scale":{"domain":[-45,300],"nice":false},"axis":{"orient":"left","title":"B)","titleAngle":0,"titleX":-37,"titleY":-12,"titleAlign":"left","titleBaseline":"alphabetic","titleFontSize":18,"titleFontWeight":"bold","titleColor":"#111","labels":false,"ticks":false,"domain":false}},
"y2":{"field":"hi"}}},
{"data":{"name":"boxB"},"mark":{"type":"tick","color":"#777","size":7,"thickness":1},
"encoding":{"x":{"field":"day","type":"nominal","axis":{"orient":"top","title":"OS Olfactory Investigation","labels":false,"ticks":false,"domain":false,"titleFontSize":11.5,"titlePadding":10,"titleColor":"#222"}},
"xOffset":{"field":"type","type":"nominal","scale":{"paddingInner":0.52,"paddingOuter":0}},
"y":{"field":"hi","type":"quantitative","axis":null}}},
{"data":{"name":"boxB"},"mark":{"type":"bar","stroke":"#666","strokeWidth":0.8,"fillOpacity":0.72},
"encoding":{"x":{"field":"day","type":"nominal","axis":{"orient":"bottom","bandPosition":0,"title":null,"labelAngle":0,"tickSize":13,"tickWidth":1,"tickColor":"#444","labelPadding":-7,"labelFontSize":9,"domainWidth":1.2}},
"xOffset":{"field":"type","type":"nominal","scale":{"paddingInner":0.52,"paddingOuter":0}},
"y":{"field":"q1","type":"quantitative","axis":{"orient":"left","values":[0,50,100,150,200,250,300],"domain":false,"title":"Olfac. Inv. Duration (s)","titleFontSize":11,"titlePadding":8,"tickSize":5,"labelFontSize":10}},
"y2":{"field":"q3"},
"fill":{"field":"c","type":"nominal","scale":{"domain":["SSP","SSS","OSP","OSS"],"range":["#3C3D94","#F07F22","#7E3A92","#E8383D"]},"legend":null}}},
{"data":{"name":"boxB"},"mark":{"type":"tick","color":"#000","size":12,"thickness":2.5},
"encoding":{"x":{"field":"day","type":"nominal","axis":null},
"xOffset":{"field":"type","type":"nominal","scale":{"paddingInner":0.52,"paddingOuter":0}},
"y":{"field":"med","type":"quantitative","axis":null}}},
{"data":{"name":"ptsB"},"mark":{"type":"point","filled":true,"size":24,"stroke":"#333","strokeWidth":0.6,"opacity":1},
"encoding":{"x":{"field":"day","type":"nominal","axis":null},
"xOffset":{"field":"jx","type":"quantitative","scale":{"domain":[0,1]}},
"y":{"field":"v","type":"quantitative","axis":null},
"fill":{"field":"c","type":"nominal","scale":{"domain":["SSP","SSS","OSP","OSS"],"range":["#3C3D94","#F07F22","#7E3A92","#E8383D"]},"legend":null}}}
],
"resolve":{"scale":{"xOffset":"independent"},"axis":{"x":"independent","y":"independent"}}}
]},
{"spacing":30,"vconcat":[
{"bounds":"flush","spacing":70,"hconcat":[
{"width":129,"height":172,"layer":[
{"data":{"name":"trC"},"mark":{"type":"errorband","interpolate":"monotone","band":{"opacity":0.15}},"encoding":{"x":{"field":"t","type":"quantitative","scale":{"domain":[-2,10],"nice":false},"axis":null},"y":{"field":"m","type":"quantitative","scale":{"domain":[-0.5,1],"nice":false},"axis":null},"yError":{"field":"e"},"color":{"field":"c","type":"nominal","scale":{"domain":["SSP","SSS","OSP","OSS"],"range":["#3C3D94","#F07F22","#7E3A92","#E8383D"]},"legend":null}}},
{"data":{"name":"trC"},"mark":{"type":"line","interpolate":"monotone","strokeWidth":1.3},"encoding":{"x":{"field":"t","type":"quantitative","axis":{"orient":"bottom","offset":-57.33,"values":[-2,0,2,4,6,8,10],"labelExpr":"datum.value==-2||datum.value==10?datum.label:''","title":null,"tickSize":6,"labelPadding":6,"labelFontSize":11,"domainWidth":1.3}},"y":{"field":"m","type":"quantitative","axis":{"orient":"left","offset":-21.5,"values":[-0.5,0.5,1],"format":".1f","title":["Relative Fluorescence","(z-scored)"],"titleFontSize":13,"titlePadding":3,"titleY":98,"tickSize":8,"labelPadding":3,"domainWidth":2}},"color":{"field":"c","type":"nominal","scale":{"domain":["SSP","SSS","OSP","OSS"],"range":["#3C3D94","#F07F22","#7E3A92","#E8383D"]},"legend":null}}},
{"data":{"values":[{}]},"mark":{"type":"text","text":"C)","align":"left","baseline":"middle","fontSize":18,"fontWeight":"bold","color":"#111"},"encoding":{"x":{"datum":-6.37,"axis":null},"y":{"datum":1.01,"axis":null}}},
{"data":{"values":[{}]},"mark":{"type":"text","text":"G\u0332C\u0332a\u0332M\u0332P\u0332:\u0332","align":"left","baseline":"middle","fontSize":16,"fontWeight":"bold","color":"#111"},"encoding":{"x":{"datum":-6.19,"axis":null},"y":{"datum":1.28,"axis":null}}},
{"data":{"values":[{}]},"mark":{"type":"text","text":"D\u0332a\u0332y\u0332 \u03320\u0332","align":"center","baseline":"middle","fontSize":16,"color":"#111"},"encoding":{"x":{"datum":5.16,"axis":null},"y":{"datum":1.28,"axis":null}}},
{"data":{"values":[{}]},"mark":{"type":"text","text":"Time (s)","align":"center","baseline":"middle","fontSize":13,"color":"#222"},"encoding":{"x":{"datum":5.16,"axis":null},"y":{"datum":-0.49,"axis":null}}}
],"resolve":{"axis":{"x":"independent","y":"independent"}}},
{"width":127,"height":172,"layer":[
{"data":{"name":"trD"},"mark":{"type":"errorband","interpolate":"monotone","band":{"opacity":0.15}},"encoding":{"x":{"field":"t","type":"quantitative","scale":{"domain":[-2,10],"nice":false},"axis":null},"y":{"field":"m","type":"quantitative","scale":{"domain":[-0.5,1],"nice":false},"axis":null},"yError":{"field":"e"},"color":{"field":"c","type":"nominal","scale":{"domain":["SSP","SSS","OSP","OSS"],"range":["#3C3D94","#F07F22","#7E3A92","#E8383D"]},"legend":null}}},
{"data":{"name":"trD"},"mark":{"type":"line","interpolate":"monotone","strokeWidth":1.3},"encoding":{"x":{"field":"t","type":"quantitative","axis":{"orient":"bottom","offset":-57.33,"values":[-2,0,2,4,6,8,10],"labelExpr":"datum.value==-2||datum.value==10?datum.label:''","title":null,"tickSize":6,"labelPadding":6,"labelFontSize":11,"domainWidth":1.3}},"y":{"field":"m","type":"quantitative","axis":{"orient":"left","offset":-21.17,"values":[-0.5,0.5,1],"format":".1f","title":null,"tickSize":8,"labelPadding":3,"domainWidth":2}},"color":{"field":"c","type":"nominal","scale":{"domain":["SSP","SSS","OSP","OSS"],"range":["#3C3D94","#F07F22","#7E3A92","#E8383D"]},"legend":null}}},
{"data":{"values":[{}]},"mark":{"type":"text","text":"D)","align":"left","baseline":"middle","fontSize":18,"fontWeight":"bold","color":"#111"},"encoding":{"x":{"datum":-5.59,"axis":null},"y":{"datum":1.01,"axis":null}}},
{"data":{"values":[{}]},"mark":{"type":"text","text":"D\u0332a\u0332y\u0332 \u03322\u0332","align":"center","baseline":"middle","fontSize":16,"color":"#111"},"encoding":{"x":{"datum":4.9,"axis":null},"y":{"datum":1.28,"axis":null}}},
{"data":{"values":[{}]},"mark":{"type":"text","text":"Time (s)","align":"center","baseline":"middle","fontSize":13,"color":"#222"},"encoding":{"x":{"datum":5.0,"axis":null},"y":{"datum":-0.49,"axis":null}}}
],"resolve":{"axis":{"x":"independent","y":"independent"}}},
{"width":127,"height":172,"layer":[
{"data":{"name":"trE"},"mark":{"type":"errorband","interpolate":"monotone","band":{"opacity":0.15}},"encoding":{"x":{"field":"t","type":"quantitative","scale":{"domain":[-2,10],"nice":false},"axis":null},"y":{"field":"m","type":"quantitative","scale":{"domain":[-0.5,1],"nice":false},"axis":null},"yError":{"field":"e"},"color":{"field":"c","type":"nominal","scale":{"domain":["SSP","SSS","OSP","OSS"],"range":["#3C3D94","#F07F22","#7E3A92","#E8383D"]},"legend":null}}},
{"data":{"name":"trE"},"mark":{"type":"line","interpolate":"monotone","strokeWidth":1.3},"encoding":{"x":{"field":"t","type":"quantitative","axis":{"orient":"bottom","offset":-57.33,"values":[-2,0,2,4,6,8,10],"labelExpr":"datum.value==-2||datum.value==10?datum.label:''","title":null,"tickSize":6,"labelPadding":6,"labelFontSize":11,"domainWidth":1.3}},"y":{"field":"m","type":"quantitative","axis":{"orient":"left","offset":-21.17,"values":[-0.5,0.5,1],"format":".1f","title":null,"tickSize":8,"labelPadding":3,"domainWidth":2}},"color":{"field":"c","type":"nominal","scale":{"domain":["SSP","SSS","OSP","OSS"],"range":["#3C3D94","#F07F22","#7E3A92","#E8383D"]},"legend":null}}},
{"data":{"values":[{}]},"mark":{"type":"text","text":"E)","align":"left","baseline":"middle","fontSize":18,"fontWeight":"bold","color":"#111"},"encoding":{"x":{"datum":-5.4,"axis":null},"y":{"datum":1.01,"axis":null}}},
{"data":{"values":[{}]},"mark":{"type":"text","text":"D\u0332a\u0332y\u0332 \u03328\u0332","align":"center","baseline":"middle","fontSize":16,"color":"#111"},"encoding":{"x":{"datum":4.71,"axis":null},"y":{"datum":1.28,"axis":null}}},
{"data":{"values":[{}]},"mark":{"type":"text","text":"Time (s)","align":"center","baseline":"middle","fontSize":13,"color":"#222"},"encoding":{"x":{"datum":4.71,"axis":null},"y":{"datum":-0.49,"axis":null}}}
],"resolve":{"axis":{"x":"independent","y":"independent"}}}
]},
{"bounds":"flush","spacing":0,"hconcat":[
{"width":20,"height":10,"data":{"values":[{}]},"mark":{"type":"point","opacity":0},"encoding":{}},
{"bounds":"flush","spacing":66,"hconcat":[
{"width":133,"height":196,"layer":[
{"data":{"values":[{}]},"mark":{"type":"rule","strokeDash":[6,5],"color":"#222","strokeWidth":1.2},"encoding":{"y":{"datum":0,"type":"quantitative","axis":null}}},
{"data":{"name":"aucF"},"mark":{"type":"rule","color":"#777","strokeWidth":1},"encoding":{"x":{"field":"c","type":"nominal","scale":{"type":"band","domain":["SSP","SSS","OSP","OSS"],"paddingInner":0.443,"paddingOuter":0.4},"axis":null},"y":{"field":"lo","type":"quantitative","scale":{"domain":[-100,200],"nice":false},"axis":{"orient":"left","title":"F)","titleAngle":0,"titleX":-67,"titleY":2,"titleAlign":"left","titleBaseline":"alphabetic","titleFontSize":18,"titleFontWeight":"bold","titleColor":"#111","labels":false,"ticks":false,"domain":false}},"y2":{"field":"hi"}}},
{"data":{"name":"aucF"},"mark":{"type":"tick","color":"#777","size":9,"thickness":1},"encoding":{"x":{"field":"c","type":"nominal","axis":null},"y":{"field":"hi","type":"quantitative","axis":null}}},
{"data":{"name":"aucF"},"mark":{"type":"tick","color":"#777","size":9,"thickness":1},"encoding":{"x":{"field":"c","type":"nominal","axis":null},"y":{"field":"lo","type":"quantitative","axis":null}}},
{"data":{"name":"aucF"},"mark":{"type":"bar","stroke":"#555","strokeWidth":0.8},"encoding":{"x":{"field":"c","type":"nominal","axis":null},"y":{"field":"q1","type":"quantitative","axis":{"orient":"left","values":[-100,-50,0,50,100,150,200],"title":"GCaMP Area Under the Curve","titleFontSize":13,"titlePadding":14,"tickSize":5,"domainWidth":1.5}},"y2":{"field":"q3"},"fill":{"field":"c","type":"nominal","scale":{"domain":["SSP","SSS","OSP","OSS"],"range":["#3C3D94","#F07F22","#7E3A92","#E8383D"]},"legend":null}}},
{"data":{"name":"aucF"},"mark":{"type":"tick","color":"#000","size":17,"thickness":2.5},"encoding":{"x":{"field":"c","type":"nominal","axis":null},"y":{"field":"med","type":"quantitative","axis":null}}},
{"data":{"name":"brF"},"mark":{"type":"line","color":"#888","strokeWidth":1},"encoding":{"x":{"field":"c","type":"nominal","axis":null},"y":{"field":"v","type":"quantitative","axis":null},"detail":{"field":"g","type":"nominal"},"order":{"field":"o","type":"quantitative"}}},
{"data":{"values":[{"c":"SSS","v":201}]},"mark":{"type":"text","text":"*","fontSize":14,"baseline":"alphabetic","dy":5,"color":"#222"},"encoding":{"x":{"field":"c","type":"nominal","axis":null},"y":{"field":"v","type":"quantitative","axis":null}}}
],"resolve":{"axis":{"y":"independent"}}},
{"width":133,"height":196,"layer":[
{"data":{"values":[{}]},"mark":{"type":"rule","strokeDash":[6,5],"color":"#222","strokeWidth":1.2},"encoding":{"y":{"datum":0,"type":"quantitative","axis":null}}},
{"data":{"name":"aucG"},"mark":{"type":"rule","color":"#777","strokeWidth":1},"encoding":{"x":{"field":"c","type":"nominal","scale":{"type":"band","domain":["SSP","SSS","OSP","OSS"],"paddingInner":0.443,"paddingOuter":0.4},"axis":null},"y":{"field":"lo","type":"quantitative","scale":{"domain":[-200,100],"nice":false},"axis":{"orient":"left","title":"G)","titleAngle":0,"titleX":-58,"titleY":3,"titleAlign":"left","titleBaseline":"alphabetic","titleFontSize":18,"titleFontWeight":"bold","titleColor":"#111","labels":false,"ticks":false,"domain":false}},"y2":{"field":"hi"}}},
{"data":{"name":"aucG"},"mark":{"type":"tick","color":"#777","size":9,"thickness":1},"encoding":{"x":{"field":"c","type":"nominal","axis":null},"y":{"field":"hi","type":"quantitative","axis":null}}},
{"data":{"name":"aucG"},"mark":{"type":"tick","color":"#777","size":9,"thickness":1},"encoding":{"x":{"field":"c","type":"nominal","axis":null},"y":{"field":"lo","type":"quantitative","axis":null}}},
{"data":{"name":"aucG"},"mark":{"type":"bar","stroke":"#555","strokeWidth":0.8},"encoding":{"x":{"field":"c","type":"nominal","axis":null},"y":{"field":"q1","type":"quantitative","axis":{"orient":"left","values":[-200,-150,-100,-50,0,50,100],"title":null,"tickSize":5,"domainWidth":1.5}},"y2":{"field":"q3"},"fill":{"field":"c","type":"nominal","scale":{"domain":["SSP","SSS","OSP","OSS"],"range":["#3C3D94","#F07F22","#7E3A92","#E8383D"]},"legend":null}}},
{"data":{"name":"aucG"},"mark":{"type":"tick","color":"#000","size":17,"thickness":2.5},"encoding":{"x":{"field":"c","type":"nominal","axis":null},"y":{"field":"med","type":"quantitative","axis":null}}}
],"resolve":{"axis":{"y":"independent"}}},
{"width":140,"height":196,"layer":[
{"data":{"values":[{}]},"mark":{"type":"rule","strokeDash":[6,5],"color":"#222","strokeWidth":1.2},"encoding":{"y":{"datum":0,"type":"quantitative","axis":null}}},
{"data":{"name":"aucH"},"mark":{"type":"rule","color":"#777","strokeWidth":1},"encoding":{"x":{"field":"c","type":"nominal","scale":{"type":"band","domain":["SSP","SSS","OSP","OSS"],"paddingInner":0.443,"paddingOuter":0.52,"align":0.45},"axis":null},"y":{"field":"lo","type":"quantitative","scale":{"domain":[-100,300],"nice":false},"axis":{"orient":"left","title":"H)","titleAngle":0,"titleX":-58,"titleY":-3,"titleAlign":"left","titleBaseline":"alphabetic","titleFontSize":18,"titleFontWeight":"bold","titleColor":"#111","labels":false,"ticks":false,"domain":false}},"y2":{"field":"hi"}}},
{"data":{"name":"aucH"},"mark":{"type":"tick","color":"#777","size":9,"thickness":1},"encoding":{"x":{"field":"c","type":"nominal","axis":null},"y":{"field":"hi","type":"quantitative","axis":null}}},
{"data":{"name":"aucH"},"mark":{"type":"tick","color":"#777","size":9,"thickness":1},"encoding":{"x":{"field":"c","type":"nominal","axis":null},"y":{"field":"lo","type":"quantitative","axis":null}}},
{"data":{"name":"aucH"},"mark":{"type":"bar","stroke":"#555","strokeWidth":0.8},"encoding":{"x":{"field":"c","type":"nominal","axis":null},"y":{"field":"q1","type":"quantitative","axis":{"orient":"left","values":[-100,-50,0,50,100,150,200,250,300],"title":null,"tickSize":5,"domainWidth":1.5}},"y2":{"field":"q3"},"fill":{"field":"c","type":"nominal","scale":{"domain":["SSP","SSS","OSP","OSS"],"range":["#3C3D94","#F07F22","#7E3A92","#E8383D"]},"legend":null}}},
{"data":{"name":"aucH"},"mark":{"type":"tick","color":"#000","size":17,"thickness":2.5},"encoding":{"x":{"field":"c","type":"nominal","axis":null},"y":{"field":"med","type":"quantitative","axis":null}}}
],"resolve":{"axis":{"y":"independent"}}}
]}
]},
{"spacing":22,"vconcat":[
{"bounds":"flush","spacing":70,"hconcat":[
{"width":129,"height":172,"layer":[
{"data":{"name":"trI"},"mark":{"type":"errorband","interpolate":"monotone","band":{"opacity":0.15}},"encoding":{"x":{"field":"t","type":"quantitative","scale":{"domain":[-2,10],"nice":false},"axis":null},"y":{"field":"m","type":"quantitative","scale":{"domain":[-0.5,1],"nice":false},"axis":null},"yError":{"field":"e"},"color":{"field":"c","type":"nominal","scale":{"domain":["SSP","SSS","OSP","OSS"],"range":["#3C3D94","#F07F22","#7E3A92","#E8383D"]},"legend":null}}},
{"data":{"name":"trI"},"mark":{"type":"line","interpolate":"monotone","strokeWidth":1.3},"encoding":{"x":{"field":"t","type":"quantitative","axis":{"orient":"bottom","offset":-57.33,"values":[-2,0,2,4,6,8,10],"labelExpr":"datum.value==-2||datum.value==10?datum.label:''","title":null,"tickSize":6,"labelPadding":6,"labelFontSize":11,"domainWidth":1.3}},"y":{"field":"m","type":"quantitative","axis":{"orient":"left","offset":-21.5,"values":[-0.5,0.5,1],"format":".1f","title":["Relative Fluorescence","(z-scored)"],"titleFontSize":13,"titlePadding":3,"titleY":98,"tickSize":8,"labelPadding":3,"domainWidth":2}},"color":{"field":"c","type":"nominal","scale":{"domain":["SSP","SSS","OSP","OSS"],"range":["#3C3D94","#F07F22","#7E3A92","#E8383D"]},"legend":null}}},
{"data":{"values":[{}]},"mark":{"type":"text","text":"I)","align":"left","baseline":"middle","fontSize":18,"fontWeight":"bold","color":"#111"},"encoding":{"x":{"datum":-6.37,"axis":null},"y":{"datum":1.01,"axis":null}}},
{"data":{"values":[{}]},"mark":{"type":"text","text":"G\u0332R\u0332A\u0332B\u0332\u1D05\u0332\u1D00\u0332:\u0332","align":"left","baseline":"middle","fontSize":16,"fontWeight":"bold","color":"#111"},"encoding":{"x":{"datum":-6.19,"axis":null},"y":{"datum":1.27,"axis":null}}},
{"data":{"values":[{}]},"mark":{"type":"text","text":"D\u0332a\u0332y\u0332 \u03320\u0332","align":"center","baseline":"middle","fontSize":16,"color":"#111"},"encoding":{"x":{"datum":5.16,"axis":null},"y":{"datum":1.27,"axis":null}}},
{"data":{"values":[{}]},"mark":{"type":"text","text":"Time (s)","align":"center","baseline":"middle","fontSize":13,"color":"#222"},"encoding":{"x":{"datum":5.16,"axis":null},"y":{"datum":-0.49,"axis":null}}}
],"resolve":{"axis":{"x":"independent","y":"independent"}}},
{"width":127,"height":172,"layer":[
{"data":{"name":"trJ"},"mark":{"type":"errorband","interpolate":"monotone","band":{"opacity":0.15}},"encoding":{"x":{"field":"t","type":"quantitative","scale":{"domain":[-2,10],"nice":false},"axis":null},"y":{"field":"m","type":"quantitative","scale":{"domain":[-0.5,1],"nice":false},"axis":null},"yError":{"field":"e"},"color":{"field":"c","type":"nominal","scale":{"domain":["SSP","SSS","OSP","OSS"],"range":["#3C3D94","#F07F22","#7E3A92","#E8383D"]},"legend":null}}},
{"data":{"name":"trJ"},"mark":{"type":"line","interpolate":"monotone","strokeWidth":1.3},"encoding":{"x":{"field":"t","type":"quantitative","axis":{"orient":"bottom","offset":-57.33,"values":[-2,0,2,4,6,8,10],"labelExpr":"datum.value==-2||datum.value==10?datum.label:''","title":null,"tickSize":6,"labelPadding":6,"labelFontSize":11,"domainWidth":1.3}},"y":{"field":"m","type":"quantitative","axis":{"orient":"left","offset":-21.17,"values":[-0.5,0.5,1],"format":".1f","title":null,"tickSize":8,"labelPadding":3,"domainWidth":2}},"color":{"field":"c","type":"nominal","scale":{"domain":["SSP","SSS","OSP","OSS"],"range":["#3C3D94","#F07F22","#7E3A92","#E8383D"]},"legend":null}}},
{"data":{"values":[{}]},"mark":{"type":"text","text":"J)","align":"left","baseline":"middle","fontSize":18,"fontWeight":"bold","color":"#111"},"encoding":{"x":{"datum":-5.59,"axis":null},"y":{"datum":1.01,"axis":null}}},
{"data":{"values":[{}]},"mark":{"type":"text","text":"D\u0332a\u0332y\u0332 \u03322\u0332","align":"center","baseline":"middle","fontSize":16,"color":"#111"},"encoding":{"x":{"datum":4.9,"axis":null},"y":{"datum":1.27,"axis":null}}},
{"data":{"values":[{}]},"mark":{"type":"text","text":"Time (s)","align":"center","baseline":"middle","fontSize":13,"color":"#222"},"encoding":{"x":{"datum":5.0,"axis":null},"y":{"datum":-0.49,"axis":null}}}
],"resolve":{"axis":{"x":"independent","y":"independent"}}},
{"width":127,"height":172,"layer":[
{"data":{"name":"trK"},"mark":{"type":"errorband","interpolate":"monotone","band":{"opacity":0.15}},"encoding":{"x":{"field":"t","type":"quantitative","scale":{"domain":[-2,10],"nice":false},"axis":null},"y":{"field":"m","type":"quantitative","scale":{"domain":[-0.5,1],"nice":false},"axis":null},"yError":{"field":"e"},"color":{"field":"c","type":"nominal","scale":{"domain":["SSP","SSS","OSP","OSS"],"range":["#3C3D94","#F07F22","#7E3A92","#E8383D"]},"legend":null}}},
{"data":{"name":"trK"},"mark":{"type":"line","interpolate":"monotone","strokeWidth":1.3},"encoding":{"x":{"field":"t","type":"quantitative","axis":{"orient":"bottom","offset":-57.33,"values":[-2,0,2,4,6,8,10],"labelExpr":"datum.value==-2||datum.value==10?datum.label:''","title":null,"tickSize":6,"labelPadding":6,"labelFontSize":11,"domainWidth":1.3}},"y":{"field":"m","type":"quantitative","axis":{"orient":"left","offset":-21.17,"values":[-0.5,0.5,1],"format":".1f","title":null,"tickSize":8,"labelPadding":3,"domainWidth":2}},"color":{"field":"c","type":"nominal","scale":{"domain":["SSP","SSS","OSP","OSS"],"range":["#3C3D94","#F07F22","#7E3A92","#E8383D"]},"legend":null}}},
{"data":{"values":[{}]},"mark":{"type":"text","text":"K)","align":"left","baseline":"middle","fontSize":18,"fontWeight":"bold","color":"#111"},"encoding":{"x":{"datum":-5.4,"axis":null},"y":{"datum":1.01,"axis":null}}},
{"data":{"values":[{}]},"mark":{"type":"text","text":"D\u0332a\u0332y\u0332 \u03328\u0332","align":"center","baseline":"middle","fontSize":16,"color":"#111"},"encoding":{"x":{"datum":4.71,"axis":null},"y":{"datum":1.27,"axis":null}}},
{"data":{"values":[{}]},"mark":{"type":"text","text":"Time (s)","align":"center","baseline":"middle","fontSize":13,"color":"#222"},"encoding":{"x":{"datum":4.71,"axis":null},"y":{"datum":-0.49,"axis":null}}}
],"resolve":{"axis":{"x":"independent","y":"independent"}}}
]},
{"bounds":"flush","spacing":0,"hconcat":[
{"width":20,"height":10,"data":{"values":[{}]},"mark":{"type":"point","opacity":0},"encoding":{}},
{"bounds":"flush","spacing":66,"hconcat":[
{"width":133,"height":194,"layer":[
{"data":{"values":[{}]},"mark":{"type":"rule","strokeDash":[6,5],"color":"#222","strokeWidth":1.2},"encoding":{"y":{"datum":0,"type":"quantitative","axis":null}}},
{"data":{"name":"aucL"},"mark":{"type":"rule","color":"#777","strokeWidth":1},"encoding":{"x":{"field":"c","type":"nominal","scale":{"type":"band","domain":["SSP","SSS","OSP","OSS"],"paddingInner":0.443,"paddingOuter":0.4},"axis":null},"y":{"field":"lo","type":"quantitative","scale":{"domain":[-60,140],"nice":false},"axis":{"orient":"left","title":"L)","titleAngle":0,"titleX":-67,"titleY":-14,"titleAlign":"left","titleBaseline":"alphabetic","titleFontSize":18,"titleFontWeight":"bold","titleColor":"#111","labels":false,"ticks":false,"domain":false}},"y2":{"field":"hi"}}},
{"data":{"name":"aucL"},"mark":{"type":"tick","color":"#777","size":9,"thickness":1},"encoding":{"x":{"field":"c","type":"nominal","axis":null},"y":{"field":"hi","type":"quantitative","axis":null}}},
{"data":{"name":"aucL"},"mark":{"type":"tick","color":"#777","size":9,"thickness":1},"encoding":{"x":{"field":"c","type":"nominal","axis":null},"y":{"field":"lo","type":"quantitative","axis":null}}},
{"data":{"name":"aucL"},"mark":{"type":"bar","stroke":"#555","strokeWidth":0.8},"encoding":{"x":{"field":"c","type":"nominal","axis":null},"y":{"field":"q1","type":"quantitative","axis":{"orient":"left","values":[-60,-40,-20,0,20,40,60,80,100,120,140],"title":"GRAB\u1D05\u1D00 Area Under the Curve","titleFontSize":13,"titlePadding":18,"tickSize":5,"domainWidth":1.5}},"y2":{"field":"q3"},"fill":{"field":"c","type":"nominal","scale":{"domain":["SSP","SSS","OSP","OSS"],"range":["#3C3D94","#F07F22","#7E3A92","#E8383D"]},"legend":null}}},
{"data":{"name":"aucL"},"mark":{"type":"tick","color":"#000","size":17,"thickness":2.5},"encoding":{"x":{"field":"c","type":"nominal","axis":null},"y":{"field":"med","type":"quantitative","axis":null}}},
{"data":{"name":"brL"},"mark":{"type":"line","color":"#888","strokeWidth":1},"encoding":{"x":{"field":"c","type":"nominal","axis":null},"y":{"field":"v","type":"quantitative","axis":null},"detail":{"field":"g","type":"nominal"},"order":{"field":"o","type":"quantitative"}}},
{"data":{"values":[{"c":"OSP","v":140}]},"mark":{"type":"text","text":"*","fontSize":14,"baseline":"alphabetic","dy":5,"dx":3,"color":"#222"},"encoding":{"x":{"field":"c","type":"nominal","axis":null},"y":{"field":"v","type":"quantitative","axis":null}}},
{"data":{"values":[{"c":"SSP","v":140}]},"mark":{"type":"text","text":"^","fontSize":11,"baseline":"alphabetic","dy":2,"dx":7,"color":"#222"},"encoding":{"x":{"field":"c","type":"nominal","bandPosition":1,"axis":null},"y":{"field":"v","type":"quantitative","axis":null}}}
],"resolve":{"axis":{"y":"independent"}}},
{"width":133,"height":194,"layer":[
{"data":{"values":[{}]},"mark":{"type":"rule","strokeDash":[6,5],"color":"#222","strokeWidth":1.2},"encoding":{"y":{"datum":0,"type":"quantitative","axis":null}}},
{"data":{"name":"aucM"},"mark":{"type":"rule","color":"#777","strokeWidth":1},"encoding":{"x":{"field":"c","type":"nominal","scale":{"type":"band","domain":["SSP","SSS","OSP","OSS"],"paddingInner":0.443,"paddingOuter":0.4},"axis":null},"y":{"field":"lo","type":"quantitative","scale":{"domain":[-60,60],"nice":false},"axis":{"orient":"left","title":"M)","titleAngle":0,"titleX":-58,"titleY":-9,"titleAlign":"left","titleBaseline":"alphabetic","titleFontSize":18,"titleFontWeight":"bold","titleColor":"#111","labels":false,"ticks":false,"domain":false}},"y2":{"field":"hi"}}},
{"data":{"name":"aucM"},"mark":{"type":"tick","color":"#777","size":9,"thickness":1},"encoding":{"x":{"field":"c","type":"nominal","axis":null},"y":{"field":"hi","type":"quantitative","axis":null}}},
{"data":{"name":"aucM"},"mark":{"type":"tick","color":"#777","size":9,"thickness":1},"encoding":{"x":{"field":"c","type":"nominal","axis":null},"y":{"field":"lo","type":"quantitative","axis":null}}},
{"data":{"name":"aucM"},"mark":{"type":"bar","stroke":"#555","strokeWidth":0.8},"encoding":{"x":{"field":"c","type":"nominal","axis":null},"y":{"field":"q1","type":"quantitative","axis":{"orient":"left","values":[-60,-40,-20,0,20,40,60],"title":null,"tickSize":5,"domainWidth":1.5}},"y2":{"field":"q3"},"fill":{"field":"c","type":"nominal","scale":{"domain":["SSP","SSS","OSP","OSS"],"range":["#3C3D94","#F07F22","#7E3A92","#E8383D"]},"legend":null}}},
{"data":{"name":"aucM"},"mark":{"type":"tick","color":"#000","size":17,"thickness":2.5},"encoding":{"x":{"field":"c","type":"nominal","axis":null},"y":{"field":"med","type":"quantitative","axis":null}}},
{"data":{"name":"brM"},"mark":{"type":"line","color":"#888","strokeWidth":1},"encoding":{"x":{"field":"c","type":"nominal","axis":null},"y":{"field":"v","type":"quantitative","axis":null},"detail":{"field":"g","type":"nominal"},"order":{"field":"o","type":"quantitative"}}},
{"data":{"values":[{"c":"SSP","v":55.3}]},"mark":{"type":"text","text":"^","fontSize":11,"baseline":"alphabetic","dy":2,"dx":7,"color":"#222"},"encoding":{"x":{"field":"c","type":"nominal","bandPosition":1,"axis":null},"y":{"field":"v","type":"quantitative","axis":null}}}
],"resolve":{"axis":{"y":"independent"}}},
{"width":140,"height":194,"layer":[
{"data":{"values":[{}]},"mark":{"type":"rule","strokeDash":[6,5],"color":"#222","strokeWidth":1.2},"encoding":{"y":{"datum":0,"type":"quantitative","axis":null}}},
{"data":{"name":"aucN"},"mark":{"type":"rule","color":"#777","strokeWidth":1},"encoding":{"x":{"field":"c","type":"nominal","scale":{"type":"band","domain":["SSP","SSS","OSP","OSS"],"paddingInner":0.443,"paddingOuter":0.52,"align":0.45},"axis":null},"y":{"field":"lo","type":"quantitative","scale":{"domain":[-20,100],"nice":false},"axis":{"orient":"left","title":"N)","titleAngle":0,"titleX":-58,"titleY":-9,"titleAlign":"left","titleBaseline":"alphabetic","titleFontSize":18,"titleFontWeight":"bold","titleColor":"#111","labels":false,"ticks":false,"domain":false}},"y2":{"field":"hi"}}},
{"data":{"name":"aucN"},"mark":{"type":"tick","color":"#777","size":9,"thickness":1},"encoding":{"x":{"field":"c","type":"nominal","axis":null},"y":{"field":"hi","type":"quantitative","axis":null}}},
{"data":{"name":"aucN"},"mark":{"type":"tick","color":"#777","size":9,"thickness":1},"encoding":{"x":{"field":"c","type":"nominal","axis":null},"y":{"field":"lo","type":"quantitative","axis":null}}},
{"data":{"name":"aucN"},"mark":{"type":"bar","stroke":"#555","strokeWidth":0.8},"encoding":{"x":{"field":"c","type":"nominal","axis":null},"y":{"field":"q1","type":"quantitative","axis":{"orient":"left","values":[-20,0,20,40,60,80,100],"title":null,"tickSize":5,"domainWidth":1.5}},"y2":{"field":"q3"},"fill":{"field":"c","type":"nominal","scale":{"domain":["SSP","SSS","OSP","OSS"],"range":["#3C3D94","#F07F22","#7E3A92","#E8383D"]},"legend":null}}},
{"data":{"name":"aucN"},"mark":{"type":"tick","color":"#000","size":17,"thickness":2.5},"encoding":{"x":{"field":"c","type":"nominal","axis":null},"y":{"field":"med","type":"quantitative","axis":null}}},
{"data":{"name":"brN"},"mark":{"type":"line","color":"#888","strokeWidth":1},"encoding":{"x":{"field":"c","type":"nominal","axis":null},"y":{"field":"v","type":"quantitative","axis":null},"detail":{"field":"g","type":"nominal"},"order":{"field":"o","type":"quantitative"}}},
{"data":{"values":[{"c":"SSP","v":95.2}]},"mark":{"type":"text","text":"^","fontSize":11,"baseline":"alphabetic","dy":2,"dx":7,"color":"#222"},"encoding":{"x":{"field":"c","type":"nominal","bandPosition":1,"axis":null},"y":{"field":"v","type":"quantitative","axis":null}}}
],"resolve":{"axis":{"y":"independent"}}}
]}
]}
]}
]}
]
}
